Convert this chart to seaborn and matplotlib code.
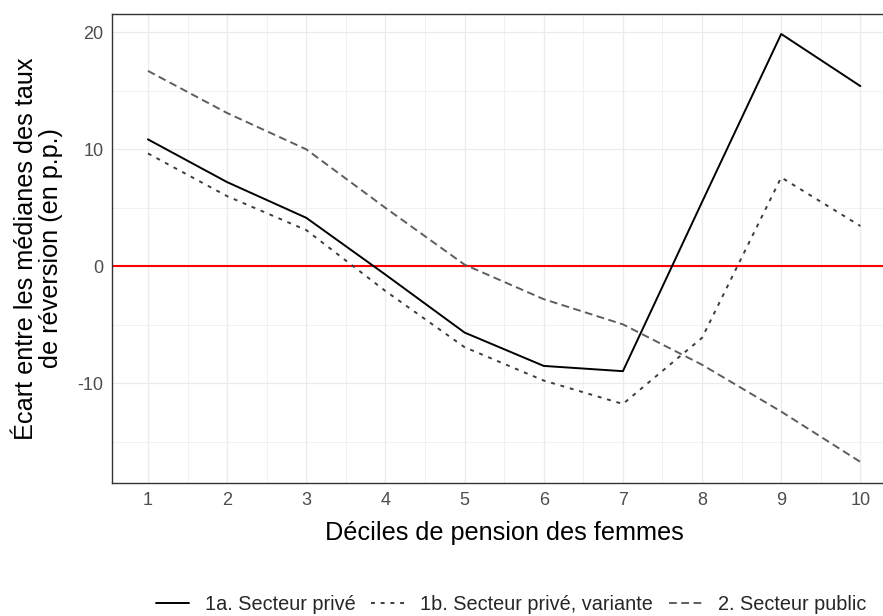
import numpy as np
import pandas as pd
import matplotlib
matplotlib.use("Agg")
import matplotlib.pyplot as plt
from matplotlib.lines import Line2D
import seaborn as sns

# Déciles de pension et écarts (en points de pourcentage)
deciles = [1, 2, 3, 4, 5, 6, 7, 8, 9, 10]
prive = [10.85, 7.2, 4.15, -0.7, -5.65, -8.5, -8.95, 5.5, 19.85, 15.4]
prive_variante = [9.65, 6.0, 3.1, -2.1, -6.9, -9.75, -11.75, -6.1, 7.6, 3.45]
public = [16.7, 13.1, 10.0, 5.0, 0.15, -2.8, -4.95, -8.4, -12.4, -16.7]

series_names = ["1a. Secteur privé", "1b. Secteur privé, variante", "2. Secteur public"]
y_ticks = [-10, 0, 10, 20]
x_ticks = deciles

df = pd.DataFrame({
    "decile": deciles * 3,
    "ecart": prive + prive_variante + public,
    "serie": np.repeat(series_names, len(deciles)),
})

sns.set_theme(style="white")
plt.rcParams["font.family"] = ["Liberation Sans", "DejaVu Sans"]

LW = 1.4
colors = {series_names[0]: "#000000", series_names[1]: "#3c3c3c", series_names[2]: "#5e5e5e"}
dashes = {series_names[0]: "", series_names[1]: (2.0, 3.0), series_names[2]: (4.0, 2.3)}

fig = plt.figure(figsize=(8.83, 6.16), dpi=100)
ax = fig.add_axes([112.3 / 883, 1 - 483 / 616, (896 - 112.3) / 883, (483 - 13.5) / 616])

# grille de fond
ax.set_xlim(0.55, 10.45)
ax.set_ylim(-18.5, 21.6)
ax.set_xticks(x_ticks)
ax.set_yticks(y_ticks)
ax.set_xticks(np.arange(1.5, 10.5, 1), minor=True)
ax.set_yticks([-15, -5, 5, 15], minor=True)
ax.grid(which="major", color="#EBEBEB", linewidth=0.9)
ax.grid(which="minor", color="#EBEBEB", linewidth=0.5)
ax.set_axisbelow(True)

ax.axhline(0, color="#FF0000", linewidth=1.5, zorder=1.5)

sns.lineplot(data=df, x="decile", y="ecart", hue="serie", style="serie",
             palette=colors, dashes=dashes, linewidth=LW, ax=ax, legend=False,
             zorder=3)

for s in ax.spines.values():
    s.set_color("#333333")
    s.set_linewidth(1.0)

ax.tick_params(axis="both", which="major", length=3.2, width=1.0, color="#333333",
               labelsize=13, labelcolor="#4D4D4D", pad=3)
ax.tick_params(axis="both", which="minor", length=0)
ax.set_xticklabels([str(v) for v in x_ticks])
ax.set_yticklabels([str(v) for v in y_ticks])

ax.set_xlabel("Déciles de pension des femmes", fontsize=18.2, color="black", labelpad=9)
ax.set_ylabel("Écart entre les médianes des taux\nde réversion (en p.p.)", fontsize=18.2,
              color="black", linespacing=1.05, multialignment="center")
ax.yaxis.set_label_coords(-0.0625, 0.5)

handles = [Line2D([], [], color=colors[n], linewidth=LW,
                  linestyle="-" if dashes[n] == "" else (0, dashes[n]))
           for n in series_names]
fig.legend(handles, series_names, loc="center", bbox_to_anchor=(0.5787, 0.018),
           ncol=3, frameon=False, fontsize=14.3, handlelength=1.66, handletextpad=0.8,
           columnspacing=0.8, borderaxespad=0)

fig.savefig("out.png", dpi=100)
